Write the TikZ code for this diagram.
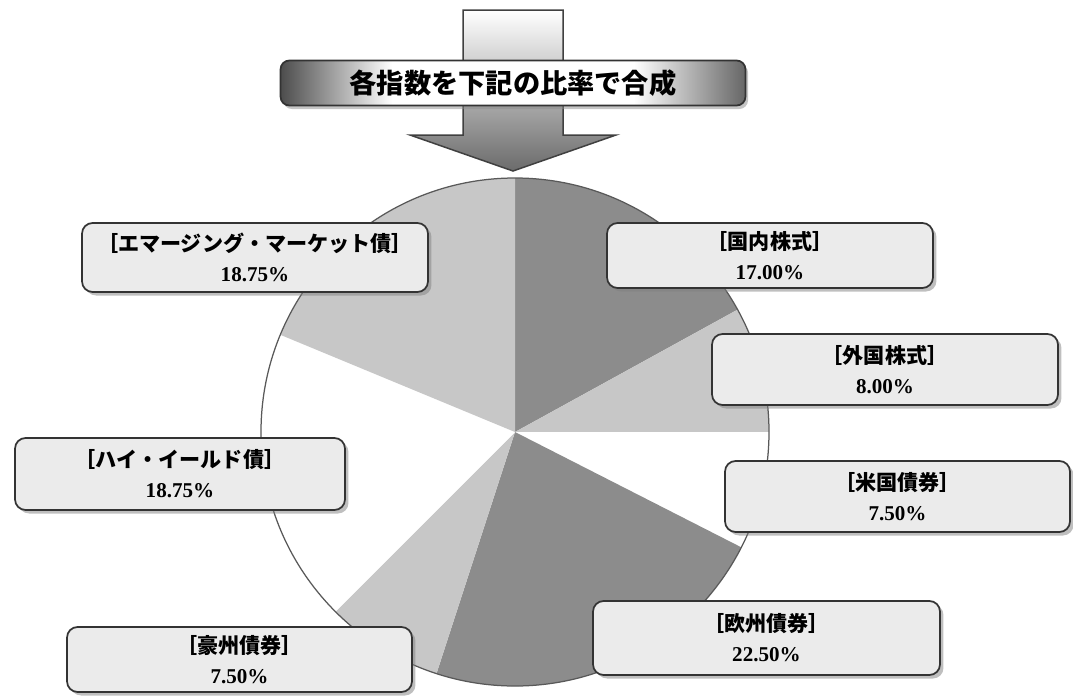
\documentclass[tikz,border=0pt]{standalone}
\usepackage{fontspec}
\newfontfamily\jpfont{Noto Sans CJK JP}
\newfontfamily\numfont{Liberation Serif}
\usetikzlibrary{shadows}

\definecolor{piedark}{gray}{0.55}
\definecolor{pielight}{gray}{0.78}
\pgfdeclarehorizontalshading{bannershade}{100bp}{color(0bp)=(black!70); color(25bp)=(black!70); color(37bp)=(white); color(63bp)=(white); color(75bp)=(black!60); color(100bp)=(black!60)}

\begin{document}
\begin{tikzpicture}[x=0.02cm, y=-0.02cm, line width=0.2mm,
  labelbox/.style={draw=black!80, line width=0.35mm, rounded corners=6pt, fill=black!8,
    minimum width=6.9cm, minimum height=1.4cm, align=center, inner sep=0pt,
    drop shadow={shadow xshift=2pt, shadow yshift=-2pt, fill=black!50},
    font=\fontsize{12}{17}\selectfont},
  banner/.style={draw=black!80, line width=0.35mm, rounded corners=5pt, shading=bannershade,
    minimum width=9.3cm, minimum height=0.9cm, inner sep=0pt,
    drop shadow={shadow xshift=1.5pt, shadow yshift=-2pt, fill=black!45},
    font=\jpfont\bfseries\fontsize{15.5}{18}\selectfont}]

\useasboundingbox (0,0) rectangle (1073,697);

% Centre of the pie and the arrow tip
\coordinate (O) at (515,432);
\coordinate (tip) at (513,171);

% Big arrow pointing down onto the pie
\shade[top color=white, bottom color=black!58, draw=black!75, line width=0.3mm]
  (463,10) -- (563,10) -- (563,135) -- (616,135) -- (tip) -- (410,135) -- (463,135) -- cycle;

% Banner across the arrow
\node[banner] (title) at (513,83) {各指数を下記の比率で合成};

% Pie slices, clockwise from the top
\begin{scope}[shift={(O)}, yscale=-1]
\foreach \a/\b/\c in {90/28.8/piedark, 28.8/0/pielight, 0/-27/white, -27/-108/piedark,
  -108/-135/pielight, -135/-202.5/white, -202.5/-270/pielight} {
  \fill[\c] (0,0) -- (\a:254) arc[start angle=\a, end angle=\b, radius=254] -- cycle;
}
\draw[black!65, line width=0.25mm] (0,0) circle[radius=254];
\end{scope}

% Labels of the slices
\foreach \n/\x/\y/\w/\h/\t/\p in {
  emg/255/257.5/6.92/1.38/エマージング・マーケット債/18.75,
  kokunai/770/255.5/6.52/1.30/国内株式/17.00,
  gaikoku/885/369.5/6.92/1.42/外国株式/8.00,
  hy/180/474/6.60/1.44/ハイ・イールド債/18.75,
  beikoku/897.5/496.5/6.90/1.42/米国債券/7.50,
  goshu/239.5/659.5/6.90/1.30/豪州債券/7.50,
  oshu/766.5/638/6.94/1.48/欧州債券/22.50} {
  \node[labelbox, minimum width=\w cm, minimum height=\h cm] (\n) at (\x,\y)
    {{\jpfont\bfseries ［\t］}\\{\numfont\bfseries \p\%}};
}

\end{tikzpicture}
\end{document}
